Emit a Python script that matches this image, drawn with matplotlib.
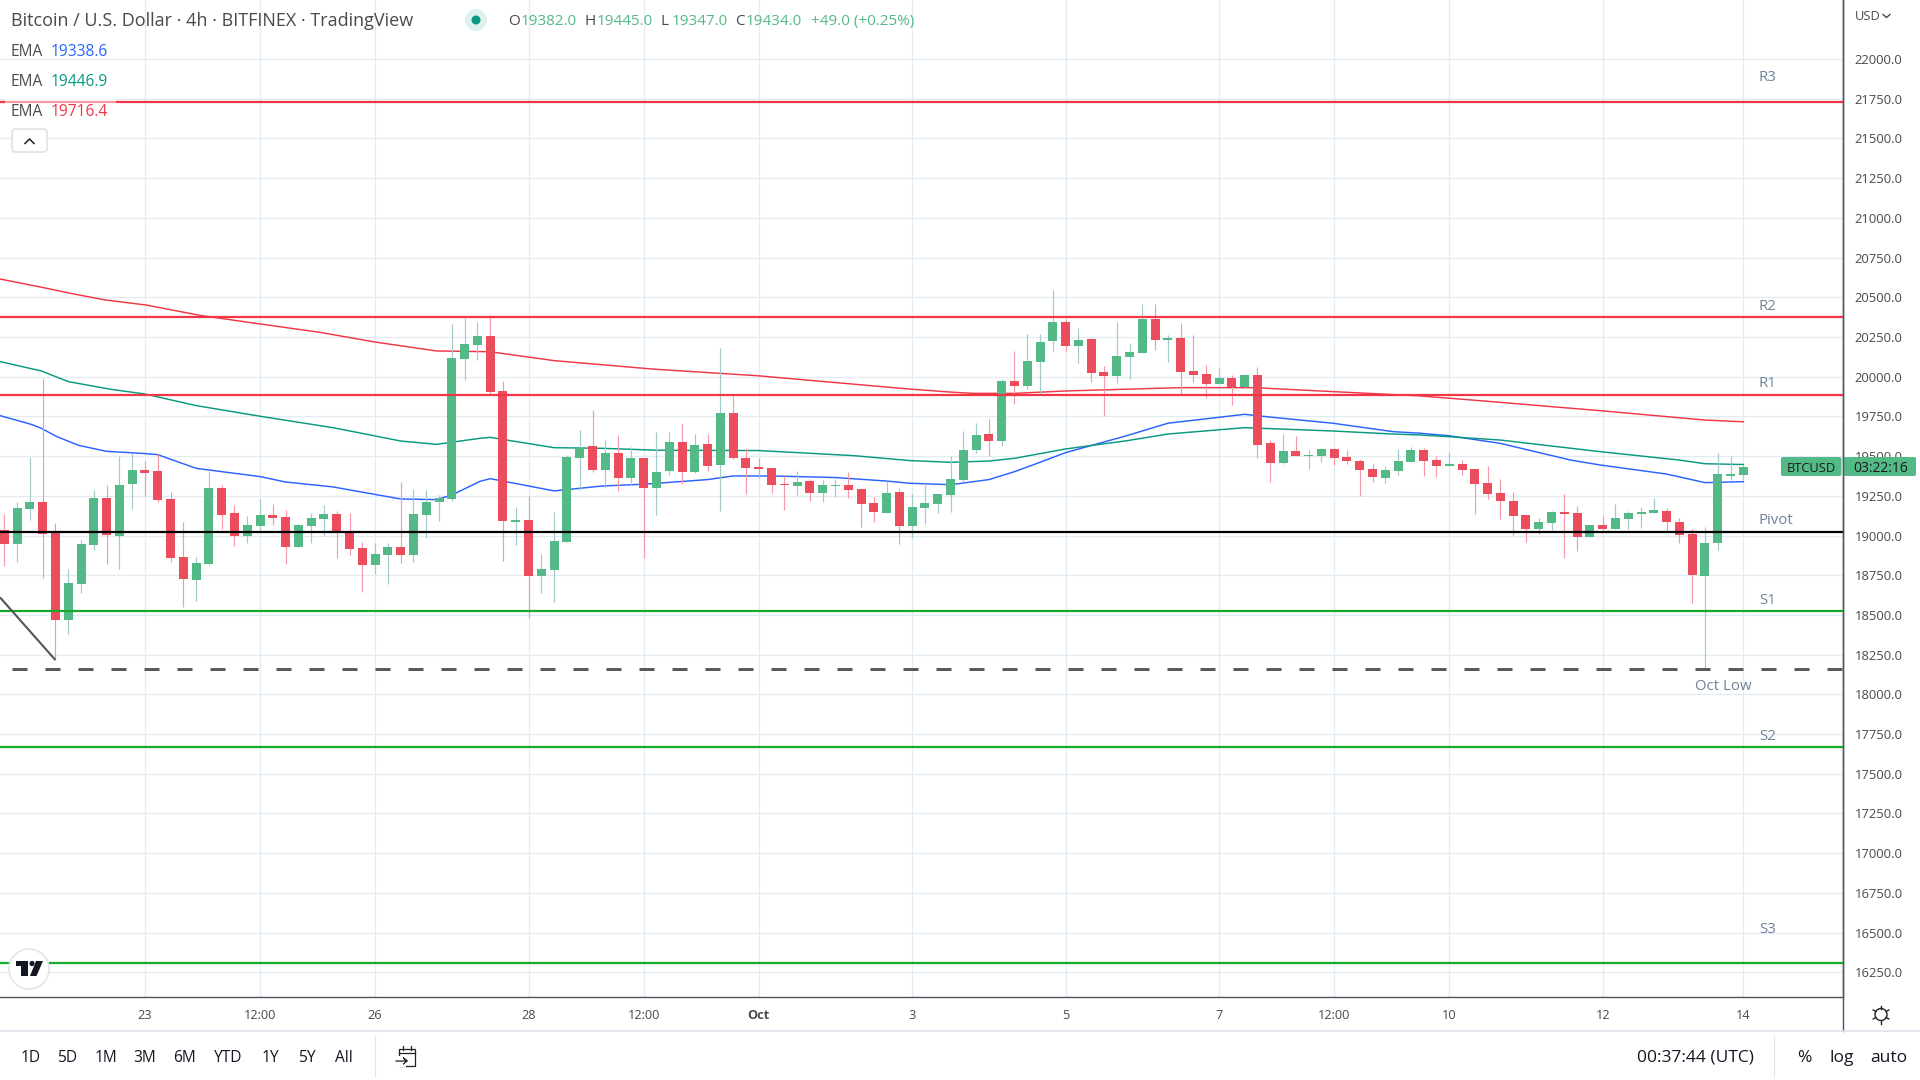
import matplotlib
matplotlib.use("Agg")
import matplotlib.pyplot as plt
from matplotlib.patches import Circle, FancyBboxPatch, Rectangle
import numpy as np

opens = [19035,18947,19167,19211,19022,18468,18695,18941,19236,18997,
         19325,19413,19406,19230,18865,18720,18821,19299,19142,18997,
         19060,19129,19117,18928,19060,19104,19136,19022,18922,18815,
         18878,18928,18878,19129,19211,19230,20112,20200,20256,19910,
         19085,19098,18745,18783,18959,19488,19564,19413,19520,19362,
         19488,19299,19406,19589,19400,19576,19444,19772,19488,19432,
         19425,19325,19312,19343,19268,19312,19318,19293,19205,19142,
         19274,19060,19174,19199,19255,19350,19539,19639,19595,19973,
         19942,20093,20225,20345,20193,20238,20030,20005,20124,20149,
         20363,20231,20244,20036,20017,19954,19992,19933,20011,19583,
         19457,19532,19501,19501,19545,19495,19469,19419,19362,19406,
         19463,19538,19475,19437,19450,19419,19330,19268,19217,19129,
         19041,19079,19148,19142,18991,19066,19041,19104,19135,19142,
         19154,19085,19009,18745,18953,19375,19382]
highs = [19136,19211,19495,19986,19079,18790,18972,19287,19318,19501,
         19520,19469,19513,19274,19085,18865,19406,19318,19192,19123,
         19230,19199,19161,19073,19142,19192,19155,19142,18959,18953,
         18953,19337,19293,19287,19255,20332,20370,20344,20389,19973,
         19180,19249,18884,19148,19507,19665,19790,19602,19633,19558,
         19488,19652,19652,19709,19639,19639,20181,19879,19551,19488,
         19425,19375,19406,19356,19350,19356,19400,19299,19243,19343,
         19299,19262,19331,19262,19501,19658,19709,19734,19986,20162,
         20269,20269,20546,20363,20307,20244,20068,20345,20212,20458,
         20458,20263,20338,20263,20074,20055,20011,20017,20061,19602,
         19639,19627,19539,19551,19551,19539,19482,19451,19438,19545,
         19558,19551,19500,19526,19475,19419,19437,19356,19274,19129,
         19110,19154,19261,19186,19066,19123,19198,19154,19179,19236,
         19173,19110,19041,19053,19519,19500,19445]
lows = [18808,18834,19098,18733,18217,18380,18638,18909,18821,18790,
        19167,19249,19211,18834,18550,18588,18815,19041,18934,18953,
        19029,19067,18821,18928,18953,18997,18859,18878,18645,18758,
        18695,18827,18834,18985,19092,19218,19979,20105,19891,18840,
        18941,18481,18638,18582,18959,19287,19400,19299,19281,19318,
        18859,19129,19381,19325,19394,19406,19155,19482,19262,19362,
        19268,19161,19255,19218,19211,19243,19236,19054,19085,19142,
        18947,18985,19073,19142,19148,19337,19520,19501,19564,19828,
        19923,19891,20162,20162,20086,19967,19753,19961,19986,20149,
        20168,20093,19885,19967,19866,19954,19822,19929,19488,19337,
        19451,19501,19419,19463,19444,19451,19249,19337,19331,19381,
        19463,19375,19368,19437,19381,19135,19230,19104,19003,18959,
        19009,19035,18858,18902,18991,19028,19041,19041,19047,19142,
        19028,18953,18575,18157,18909,19349,19347]
closes = [18947,19174,19211,19010,18468,18701,18947,19236,19004,19318,
          19413,19394,19224,18859,18727,18827,19299,19129,18997,19067,
          19129,19111,18928,19067,19111,19136,19022,18915,18815,18884,
          18928,18878,19136,19211,19236,20118,20206,20256,19904,19092,
          19098,18745,18790,18966,19495,19551,19413,19520,19362,19488,
          19299,19400,19589,19400,19570,19438,19772,19488,19425,19419,
          19318,19318,19337,19268,19318,19318,19287,19199,19148,19268,
          19060,19180,19205,19262,19356,19539,19633,19595,19973,19942,
          20099,20219,20345,20193,20231,20024,20005,20131,20156,20363,
          20231,20244,20030,20011,19954,19992,19935,20011,19570,19457,
          19532,19501,19507,19545,19488,19469,19413,19369,19413,19469,
          19539,19469,19437,19450,19412,19324,19261,19217,19123,19041,
          19085,19148,19135,18991,19066,19041,19110,19142,19148,19160,
          19085,19003,18751,18953,19387,19387,19434]

ema_blue_idx = [-0.34,2.1,2.9,4.1,5.8,8,11,12,15,20,22,25.7,31,33.8,35,37.2,38,43,46.8,50,55,57,60,65,69,70.8,74,
                77,79,81,83,87.8,91,97,99.2,103.9,108.6,110.7,113,117,122.5,124.8,130,133,136]
ema_blue = [19755,19700,19675,19623,19568,19530,19516,19509,19423,19371,19337,19306,19230,19226,19255,19341,19358,19281,19312,19323,19352,19375,19375,19365,19343,19329,19320,
            19352,19402,19461,19522,19629,19707,19763,19744,19707,19654,19644,19628,19580,19475,19444,19387,19333,19339]
ema_green_idx = [-0.34,2.9,5,8.3,11,15,20,25.7,31,33.8,37.2,38,43,46.8,51,59,66.4,70.8,74,77,79,83,87.8,91,97,103.9,108.6,110.7,113,117,124.8,131,133,136]
ema_green = [20095,20036,19969,19921,19891,19818,19751,19679,19595,19574,19612,19618,19553,19549,19537,19535,19503,19472,19461,19469,19486,19545,19597,19639,19679,19658,19639,19633,19622,19601,19528,19475,19452,19447]
ema_red_idx = [-0.34,2.8,5.4,7.9,11.1,15.3,20,24.7,29,33.8,38,43,50.7,58.9,70.8,74,75.8,79,83,92,97.7,103.9,110.7,114.8,124.8,133,136]
ema_red = [20615,20565,20521,20483,20451,20386,20332,20279,20218,20162,20157,20101,20048,20006,19922,19903,19895,19895,19910,19931,19931,19906,19879,19853,19786,19727,19716]

level_names = ["R3", "R2", "R1", "Pivot", "S1", "S2", "S3"]
level_values = [21729, 20378, 19885, 19022, 18525, 17669, 16309]
level_colors = ["#f23645", "#f23645", "#f23645", "#000000", "#17a92a", "#17a92a", "#17a92a"]
oct_low = 18158
trend_idx = [-0.34, 4.0]
trend_val = [18611, 18216]

y_ticks = list(range(16250, 22001, 250))
x_tick_idx = [11, 20, 29, 41, 50, 59, 71, 83, 95, 104, 113, 125, 136]
x_tick_labels = ["23", "12:00", "26", "28", "12:00", "Oct", "3", "5", "7", "12:00", "10", "12", "14"]
ranges = ["1D", "5D", "1M", "3M", "6M", "YTD", "1Y", "5Y", "All"]

FONT = "Open Sans"
plt.rcParams["font.family"] = [FONT, "DejaVu Sans"]
UP, DOWN = "#53b987", "#eb4d5c"
UPW, DOWNW = "#a3c9c9", "#f799a6"
GRID = "#e3ecf2"
TXT = "#4a4a4a"
AXC = "#50535e"

W, H = 1920, 1080
AX_R, AX_B = 1843, 997
SPACING = 12.787
X0 = 4.3
Y_PER_PX = 6.2956
fig = plt.figure(figsize=(W / 100, H / 100), dpi=100, facecolor="white")
ax = fig.add_axes([0, 1 - AX_B / H, AX_R / W, AX_B / H])
ax.set_xlim(-X0 / SPACING, (AX_R - X0) / SPACING)
ax.set_ylim(22000 - (AX_B - 59) * Y_PER_PX, 22000 + 59 * Y_PER_PX)

ax.set_yticks(y_ticks)
ax.set_yticklabels([f"{v:.1f}" for v in y_ticks], fontsize=9.4, color=TXT)
ax.set_xticks(x_tick_idx)
ax.set_xticklabels(x_tick_labels, fontsize=9.2, color=TXT)
for lab in ax.get_xticklabels():
    if lab.get_text() == "Oct":
        lab.set_fontweight("bold")
ax.tick_params(axis="y", length=0, pad=8.5, labelright=True, labelleft=False, right=False, left=False)
ax.tick_params(axis="x", length=0, pad=8.3)
ax.grid(True, color=GRID, lw=1.0, zorder=0)
ax.set_axisbelow(True)
for s in ("top", "left"):
    ax.spines[s].set_visible(False)
for s in ("right", "bottom"):
    ax.spines[s].set_color(AXC)
    ax.spines[s].set_linewidth(1.0)

idx = np.arange(len(opens))
o, h, l, c = map(np.array, (opens, highs, lows, closes))
up = c >= o
ax.vlines(idx, l, h, colors=[UPW if u else DOWNW for u in up], lw=0.85, zorder=3)
ax.bar(idx, np.abs(c - o), bottom=np.minimum(o, c), width=9 / SPACING,
       color=[UP if u else DOWN for u in up], linewidth=0, zorder=4)

ax.plot(ema_blue_idx, ema_blue, color="#2962ff", lw=1.05, zorder=2)
ax.plot(ema_green_idx, ema_green, color="#089981", lw=1.05, zorder=2)
ax.plot(ema_red_idx, ema_red, color="#f23645", lw=1.05, zorder=2)

for v, col in zip(level_values, level_colors):
    ax.axhline(v, color=col, lw=1.6, zorder=5)
ax.plot([(12 - X0) / SPACING, (AX_R - X0) / SPACING], [oct_low, oct_low], color="#5a5a5a", lw=2.16,
        dashes=(5.0, 6.0), dash_capstyle="butt", zorder=5)
ax.plot(trend_idx, trend_val, color="#555555", lw=1.5, zorder=5, solid_capstyle="butt")

# overlay in pixel coordinates for the interface furniture
ov = fig.add_axes([0, 0, 1, 1], facecolor="none")
ov.set_xlim(0, W)
ov.set_ylim(H, 0)
ov.axis("off")


def txt(x, y, s, size=11.2, color=TXT, ha="left", **kw):
    return ov.text(x, y + 1.5, s, fontsize=size, color=color, ha=ha, va="center", zorder=20, **kw)


# header legend
ov.add_patch(Rectangle((5, 98), 111, 8, facecolor="white", alpha=0.5, edgecolor="none", zorder=6))
txt(11, 20, "Bitcoin / U.S. Dollar · 4h · BITFINEX · TradingView", size=12.95, color="#4a4a4a")
ov.add_patch(Circle((476, 20), 11, facecolor="#dff1ee", edgecolor="none", zorder=10))
ov.add_patch(Circle((476, 20), 4.5, facecolor="#089981", edgecolor="none", zorder=11))
for x, s in zip((508, 585, 661, 735), "OHLC"):
    txt(x, 20, s, size=11.0)
for x, s in zip((521, 597, 672, 746), ("19382.0", "19445.0", "19347.0", "19434.0")):
    txt(x, 20, s, size=11.0, color=UP)
txt(811, 20, "+49.0 (+0.25%)", size=11.0, color=UP)
for y, val, col in zip((50, 80, 110.5), ("19338.6", "19446.9", "19716.4"), ("#2962ff", "#089981", "#f23645")):
    txt(11, y, "EMA", size=11.2)
    txt(51, y, val, size=11.2, color=col)
ov.add_patch(FancyBboxPatch((12, 129), 35, 23, boxstyle="round,pad=0,rounding_size=3",
                            facecolor="white", edgecolor="#d5d8e0", lw=0.9, zorder=10))
ov.plot([25, 29.5, 34], [143.5, 139, 143.5], color="#222222", lw=1.1, zorder=11)

# level labels
LBL = "#6f8398"
for name, y in zip(level_names, (76, 305, 382, 519, 599, 735, 928)):
    txt(1759, y, name, size=10.8, color=LBL)
txt(1695, 685, "Oct Low", size=10.8, color=LBL)

# price tag
ov.add_patch(FancyBboxPatch((1781, 457), 60.5, 19, boxstyle="round,pad=0,rounding_size=2",
                            facecolor=UP, edgecolor="none", zorder=12))
ov.add_patch(FancyBboxPatch((1843.5, 457), 72.5, 19, boxstyle="round,pad=0,rounding_size=2",
                            facecolor=UP, edgecolor="none", zorder=12))
ov.text(1811.5, 468, "BTCUSD", fontsize=9.3, color="#1b1b1b", ha="center", va="center", zorder=21)
ov.text(1881, 468, "03:22:16", fontsize=10.0, color="#1b1b1b", ha="center", va="center", zorder=21)

# currency menu
txt(1855, 15, "USD", size=9.3, color="#4a4a4a")
ov.plot([1883, 1886.5, 1890], [14.5, 17.5, 14.5], color="#4a4a4a", lw=1.0, zorder=20)

# frame pieces
ov.plot([1843, 1843], [0, 1031], color=AXC, lw=1.0, zorder=15)
ov.plot([0, W], [1031, 1031], color="#e0e3eb", lw=1.2, zorder=15)
ov.plot([375, 375], [1036, 1076], color="#e0e3eb", lw=0.8, zorder=15)
ov.plot([1774, 1774], [1036, 1076], color="#e0e3eb", lw=0.8, zorder=15)

# range buttons
for x, s in zip((30.5, 67, 106, 145, 184, 228, 270, 307, 344), ranges):
    txt(x, 1056, s, size=11.2, color="#131722", ha="center")
# calendar icon
ov.add_patch(Rectangle((399, 1049), 16, 17, facecolor="white", edgecolor="#222222", lw=0.9, zorder=18))
ov.plot([399, 415], [1053, 1053], color="#222222", lw=0.9, zorder=19)
ov.plot([403, 403], [1046, 1050], color="#222222", lw=0.9, zorder=19)
ov.plot([411, 411], [1046, 1050], color="#222222", lw=0.9, zorder=19)
ov.add_patch(Rectangle((394, 1056), 12, 11, facecolor="white", edgecolor="none", zorder=19))
ov.plot([396, 407, 403.5, 407, 403.5], [1061, 1061, 1058, 1061, 1064], color="#222222", lw=0.9, zorder=20)

txt(1695, 1056, "00:37:44 (UTC)", size=12.5, color="#131722", ha="center")
txt(1804, 1056, "%", size=12.5, color="#131722", ha="center")
txt(1842, 1056, "log", size=12.5, color="#131722", ha="center")
txt(1889, 1056, "auto", size=12.5, color="#131722", ha="center")

# settings icon
ov.add_patch(Circle((1881, 1014.5), 6, facecolor="white", edgecolor="#222222", lw=1.0, zorder=18))
for a in np.deg2rad(np.arange(30, 360, 60)):
    ov.plot([1881 + 6 * np.cos(a), 1881 + 9 * np.cos(a)], [1014.5 + 6 * np.sin(a), 1014.5 + 9 * np.sin(a)],
            color="#222222", lw=1.0, zorder=18)

# logo badge
ov.add_patch(Circle((29, 969), 20, facecolor="white", edgecolor="#e3e5ea", lw=1.2, zorder=16))
ov.add_patch(Rectangle((16, 961), 12, 5, facecolor="#131722", edgecolor="none", zorder=17))
ov.add_patch(Rectangle((21, 961), 7, 15, facecolor="#131722", edgecolor="none", zorder=17))
ov.add_patch(Circle((32, 963.5), 2.6, facecolor="#131722", edgecolor="none", zorder=17))
ov.fill([36, 43, 36.5, 30], [961, 961, 976, 976], color="#131722", zorder=17, lw=0)

fig.savefig("out.png", dpi=100)
